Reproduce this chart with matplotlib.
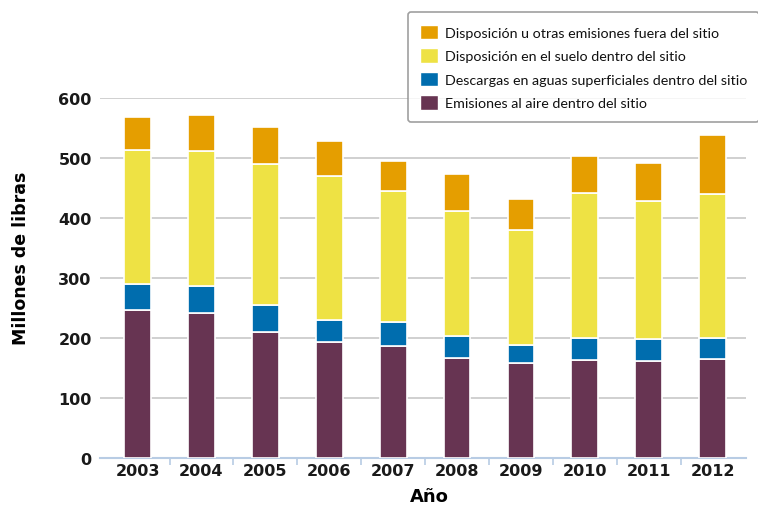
import numpy as np
import matplotlib
matplotlib.use("Agg")
import matplotlib.pyplot as plt
from matplotlib.patches import Patch

# data (millions of pounds)
years = ["2003", "2004", "2005", "2006", "2007", "2008", "2009", "2010", "2011", "2012"]
air = [247, 242, 210, 193, 186, 167, 158, 163, 161, 165]
water = [43, 44, 45, 37, 40, 37, 31, 37, 37, 35]
land = [224, 226, 235, 240, 219, 208, 191, 242, 231, 240]
offsite = [54, 60, 62, 59, 51, 61, 52, 61, 63, 99]

labels = ["Emisiones al aire dentro del sitio",
          "Descargas en aguas superficiales dentro del sitio",
          "Disposición en el suelo dentro del sitio",
          "Disposición u otras emisiones fuera del sitio"]
colors = ["#673452", "#006dae", "#eee244", "#e59e00"]

fig = plt.figure(figsize=(7.58, 5.06), dpi=100)
ax = fig.add_axes([0.132, 0.093, 0.852, 0.711])

x = np.arange(len(years))
bottom = np.zeros(len(years))
for vals, c in zip([air, water, land, offsite], colors):
    ax.bar(x, vals, width=0.42, bottom=bottom, color=c, edgecolor="white",
           linewidth=1.2, zorder=3)
    bottom += np.array(vals)

ax.set_xlim(-0.587, 9.52)
ax.set_ylim(0, 600)
ax.set_yticks(range(0, 601, 100))
ax.yaxis.grid(True, color="#c8c8c8", linewidth=1.2, zorder=0)
ax.tick_params(axis="y", length=0, pad=6)
for s in ["top", "right", "left"]:
    ax.spines[s].set_visible(False)
ax.spines["bottom"].set_color("#b8cce4")
ax.spines["bottom"].set_linewidth(1.5)

ax.set_xticks(x)
ax.set_xticklabels(years)
ax.set_xticks(x[:-1] + 0.5, minor=True)
ax.tick_params(axis="x", which="major", length=0, pad=4)
ax.tick_params(axis="x", which="minor", length=5, color="#b8cce4", width=1.2)
for lab in ax.get_xticklabels() + ax.get_yticklabels():
    lab.set_fontweight("bold")
    lab.set_fontsize(11.5)
    lab.set_color("#1a1a1a")

ax.set_ylabel("Millones de libras", fontsize=12.5, fontweight="bold")
ax.yaxis.set_label_coords(-0.108, 0.558)
ax.set_xlabel("Año", fontsize=13, fontweight="bold")
ax.xaxis.set_label_coords(0.51, -0.08)

handles = [Patch(facecolor=c, edgecolor="white") for c in colors][::-1]
leg = fig.legend(handles, labels[::-1], loc="upper left",
                 bbox_to_anchor=(0.533, 0.982), frameon=True,
                 prop={"family": "Lato", "size": 10.3},
                 handlelength=1.2, handleheight=1.2, handletextpad=0.5,
                 labelspacing=0.62, borderpad=0.85, borderaxespad=0.3,
                 fancybox=True)
leg.get_frame().set_edgecolor("#888888")
leg.get_frame().set_linewidth(1.2)
for t in leg.get_texts():
    t.set_color("#111111")

fig.savefig("out.png", dpi=100)
